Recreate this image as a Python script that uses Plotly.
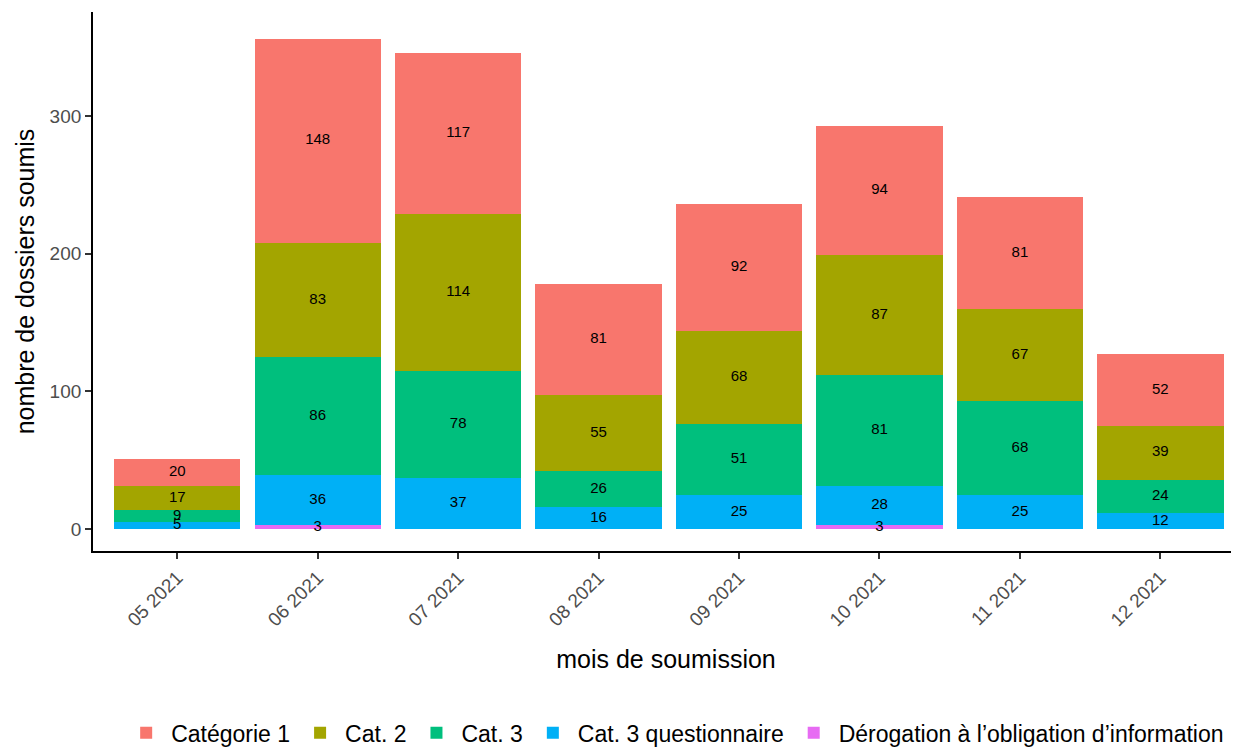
import plotly.graph_objects as go

months = ["05 2021", "06 2021", "07 2021", "08 2021", "09 2021", "10 2021", "11 2021", "12 2021"]
cat1 = [20, 148, 117, 81, 92, 94, 81, 52]
cat2 = [17, 83, 114, 55, 68, 87, 67, 39]
cat3 = [9, 86, 78, 26, 51, 81, 68, 24]
cat3q = [5, 36, 37, 16, 25, 28, 25, 12]
derog = [0, 3, 0, 0, 0, 3, 0, 0]

names = ["Catégorie 1", "Cat. 2", "Cat. 3", "Cat. 3 questionnaire", "Dérogation à l’obligation d’information"]
colors = ["#F8766D", "#A3A500", "#00BF7D", "#00B0F6", "#E76BF3"]
series = [cat1, cat2, cat3, cat3q, derog]

fig = go.Figure()
# bottom-first stacking (ggplot puts first level on top)
order = [4, 3, 2, 1, 0]
base = [0] * len(months)
lab_x, lab_y, lab_t = [], [], []
for i in order:
    vals = series[i]
    fig.add_trace(go.Bar(
        x=months, y=vals, name=names[i], marker=dict(color=colors[i], line=dict(width=0)),
        hoverinfo="x+y+name"))
    for j, v in enumerate(vals):
        if v > 0:
            lab_x.append(months[j])
            lab_y.append(base[j] + v / 2)
            lab_t.append(str(v))
        base[j] += v

fig.add_trace(go.Scatter(
    x=lab_x, y=lab_y, text=lab_t, mode="text", showlegend=False, hoverinfo="skip",
    textfont=dict(family="Liberation Sans, Arial, sans-serif", size=15, color="black")))

fig.update_layout(
    barmode="stack", bargap=0.1,
    width=1239, height=749,
    paper_bgcolor="white", plot_bgcolor="white",
    margin=dict(l=85, r=8, t=4, b=205),
    font=dict(family="Liberation Sans, Arial, sans-serif", color="black"),
    legend=dict(orientation="h", traceorder="reversed", x=0.508, xanchor="center",
                y=-0.335, yanchor="middle", font=dict(size=23, color="black"),
                itemwidth=40, tracegroupgap=0),
    xaxis=dict(range=[-0.6, 7.56], showline=True, linecolor="black", linewidth=1.8,
               ticks="outside", ticklen=6, tickcolor="#333333", tickwidth=1.5, tickangle=-45,
               tickfont=dict(size=19, color="#4D4D4D"), showgrid=False,
               title=dict(text="mois de soumission", font=dict(size=25, color="black"), standoff=21)),
    yaxis=dict(range=[-15.9, 375.4], showline=True, linecolor="black", linewidth=1.8,
               ticks="outside", ticklen=6, tickcolor="#333333", tickwidth=1.5, tickvals=[0, 100, 200, 300],
               tickfont=dict(size=19, color="#4D4D4D"), showgrid=False, zeroline=False,
               title=dict(text="nombre de dossiers soumis", font=dict(size=25, color="black"), standoff=8)),
)

fig.write_html("out.html")
